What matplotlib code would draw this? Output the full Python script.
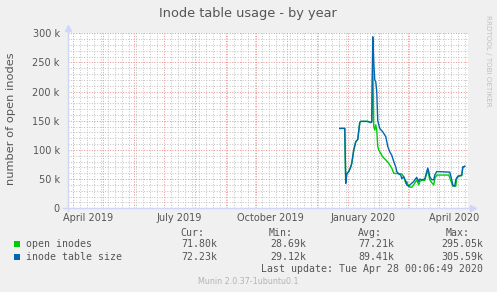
import matplotlib
matplotlib.use("Agg")
import matplotlib.pyplot as plt
import matplotlib.dates as mdates
import matplotlib.transforms as mtransforms
from matplotlib.patches import Rectangle
from matplotlib.ticker import MultipleLocator, FuncFormatter
import pandas as pd

# inode table size (blue), values in k
blue_dates = ["2019-12-24", "2019-12-29", "2019-12-30", "2019-12-31", "2020-01-02", "2020-01-04",
              "2020-01-05", "2020-01-07", "2020-01-09", "2020-01-11", "2020-01-13", "2020-01-14",
              "2020-01-18", "2020-01-21", "2020-01-24", "2020-01-25", "2020-01-26", "2020-01-27",
              "2020-01-28", "2020-01-29", "2020-01-30", "2020-01-31", "2020-02-02", "2020-02-05",
              "2020-02-08", "2020-02-10", "2020-02-12", "2020-02-14", "2020-02-16", "2020-02-18",
              "2020-02-19", "2020-02-21", "2020-02-23", "2020-02-24", "2020-02-26", "2020-02-28",
              "2020-02-29", "2020-03-02", "2020-03-05", "2020-03-07", "2020-03-08", "2020-03-10",
              "2020-03-12", "2020-03-13", "2020-03-15", "2020-03-18", "2020-03-21", "2020-03-22",
              "2020-03-23", "2020-03-25", "2020-03-27", "2020-03-28", "2020-03-30", "2020-04-12",
              "2020-04-14", "2020-04-15", "2020-04-17", "2020-04-18", "2020-04-20", "2020-04-24",
              "2020-04-25", "2020-04-27"]
blue_vals = [137, 137, 43, 59, 63, 71,
             77, 100, 114, 118, 147, 149,
             149, 149, 147, 148, 294, 250,
             220, 217, 200, 150, 137, 131,
             123, 106, 97, 91, 80, 71,
             63, 59, 57, 51, 54, 46,
             40, 38, 43, 46, 49, 53,
             46, 50, 49, 50, 69, 63,
             54, 49, 49, 57, 63, 62,
             49, 40, 38, 49, 55, 57,
             71, 72]

# open inodes (green), values in k
green_dates = ["2019-12-24", "2019-12-29", "2019-12-30", "2019-12-31", "2020-01-02", "2020-01-04",
               "2020-01-05", "2020-01-07", "2020-01-09", "2020-01-11", "2020-01-13", "2020-01-14",
               "2020-01-18", "2020-01-21", "2020-01-24", "2020-01-25", "2020-01-26", "2020-01-27",
               "2020-01-28", "2020-01-29", "2020-01-30", "2020-01-31", "2020-02-01", "2020-02-03",
               "2020-02-05", "2020-02-08", "2020-02-11", "2020-02-14", "2020-02-16", "2020-02-24",
               "2020-02-26", "2020-02-28", "2020-02-29", "2020-03-02", "2020-03-05", "2020-03-08",
               "2020-03-10", "2020-03-12", "2020-03-13", "2020-03-15", "2020-03-18", "2020-03-21",
               "2020-03-23", "2020-03-25", "2020-03-27", "2020-03-28", "2020-03-30", "2020-04-11",
               "2020-04-14", "2020-04-15", "2020-04-18", "2020-04-19", "2020-04-21", "2020-04-24",
               "2020-04-25", "2020-04-27"]
green_vals = [137, 137, 43, 59, 63, 71,
              77, 100, 114, 118, 147, 149,
              149, 149, 147, 148, 254, 140,
              134, 143, 134, 106, 100, 94,
              88, 83, 77, 69, 60, 59,
              54, 43, 46, 37, 36, 43,
              49, 40, 46, 48, 48, 66,
              49, 44, 40, 51, 57, 57,
              43, 38, 38, 51, 55, 56,
              69, 72]

x_labels = ["April 2019", "July 2019", "October 2019", "January 2020", "April 2020"]
x_label_dates = ["2019-04-16", "2019-07-16", "2019-10-16", "2020-01-16", "2020-04-16"]

legend_names = ["open inodes", "inode table size"]
legend_colors = ["#00CC00", "#0066B3"]
cur_vals = ["71.80k", "72.23k"]
min_vals = ["28.69k", "29.12k"]
avg_vals = ["77.21k", "89.41k"]
max_vals = ["295.05k", "305.59k"]

W, H = 497, 292
FONT = "#555555"


def px(x, y):
    return x / W, 1 - y / H


fig = plt.figure(figsize=(W / 100, H / 100), dpi=100, facecolor="#F0F0F0")
ax = fig.add_axes([68 / W, (H - 208.3) / H, 400 / W, 175 / H])
ax.set_facecolor("white")

ax.plot(pd.to_datetime(green_dates), [v * 1000 for v in green_vals], color=legend_colors[0], lw=1.0, zorder=3)
ax.plot(pd.to_datetime(blue_dates), [v * 1000 for v in blue_vals], color=legend_colors[1], lw=1.0, zorder=4)

start = pd.Timestamp("2019-03-27 06:00")
ax.set_xlim(start, start + pd.Timedelta(days=400))
ax.set_ylim(0, 300000)

ax.xaxis.set_major_locator(mdates.MonthLocator())
ax.xaxis.set_minor_locator(mdates.WeekdayLocator(byweekday=mdates.MO))
ax.yaxis.set_major_locator(MultipleLocator(50000))
ax.yaxis.set_minor_locator(MultipleLocator(10000))
ax.yaxis.set_major_formatter(FuncFormatter(lambda v, p: "0" if v == 0 else f"{v / 1000:.0f} k"))
ax.xaxis.set_major_formatter(FuncFormatter(lambda v, p: ""))

# dotted grid like rrdtool
ax.grid(which="minor", color="#C4C4C4", ls=(0, (1, 1.6)), lw=0.72)
ax.grid(which="major", color="#EE9494", ls=(0, (1, 1.6)), lw=0.72)
ax.tick_params(which="both", length=0)
ax.tick_params(axis="y", pad=6, labelsize=7, labelcolor=FONT)
for s in ax.spines.values():
    s.set_visible(False)

# axes lines with arrows (rrdtool style)
axis_col = "#CFD6F8"
ax.plot([-5 / 400, 1.005], [0, 0], color=axis_col, lw=1.0, transform=ax.transAxes, clip_on=False, zorder=5)
ax.plot([1.0115], [0], marker=">", ms=4, color=axis_col, transform=ax.transAxes, clip_on=False, zorder=5)
ax.plot([0, 0], [-0.015, 1.02], color=axis_col, lw=1.0, transform=ax.transAxes, clip_on=False, zorder=5)
ax.plot([0], [1.03], marker="^", ms=4, color=axis_col, transform=ax.transAxes, clip_on=False, zorder=5)

trans = mtransforms.blended_transform_factory(ax.transData, ax.transAxes)
for lab, d in zip(x_labels, pd.to_datetime(x_label_dates)):
    ax.text(mdates.date2num(d), -0.053, lab, transform=trans, ha="center", va="center",
            fontsize=7, color=FONT, clip_on=False)

fig.text(*px(248, 13), "Inode table usage - by year", ha="center", va="center", fontsize=9.3, color=FONT)
fig.text(*px(11, 119), "number of open inodes", rotation=90, ha="center", va="center", fontsize=8.2, color=FONT)
fig.text(*px(488, 15), "RRDTOOL / TOBI OETIKER", rotation=270, ha="center", va="top", fontsize=5.1, color="#C0C0C0")

mono = dict(family="DejaVu Sans Mono", fontsize=7.15, color=FONT, va="center")
for head, xr in zip(["Cur:", "Min:", "Avg:", "Max:"], [204, 293, 382, 470]):
    fig.text(*px(xr, 233.3), head, ha="right", **mono)

rows_y = [244.3, 256.7]
for i, y in enumerate(rows_y):
    fig.add_artist(Rectangle(px(14, y + 3), 6 / W, 6 / H, transform=fig.transFigure,
                             facecolor=legend_colors[i], edgecolor="none"))
    fig.text(*px(26.5, y), legend_names[i], ha="left", **mono)
    for vals, xr in zip([cur_vals, min_vals, avg_vals, max_vals], [217, 306, 394, 483]):
        fig.text(*px(xr, y), vals[i], ha="right", **mono)

fig.text(*px(483, 268.7), "Last update: Tue Apr 28 00:06:49 2020", ha="right", **mono)
fig.text(*px(248, 281), "Munin 2.0.37-1ubuntu0.1", ha="center", va="center", fontsize=5.8, color="#B4B4B4")

fig.savefig("out.png", dpi=100, facecolor=fig.get_facecolor())
